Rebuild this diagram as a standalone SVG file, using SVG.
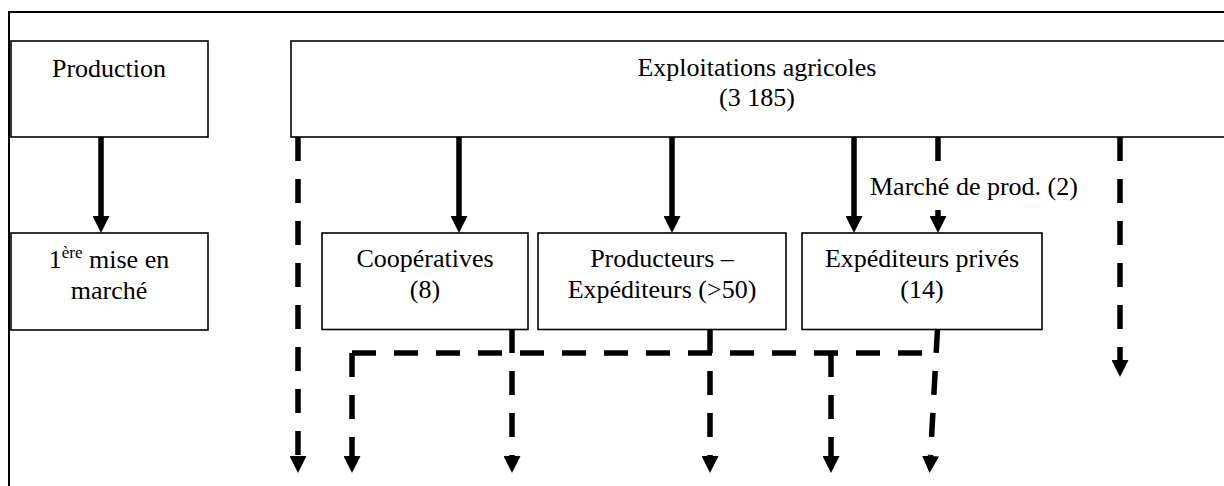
<svg xmlns="http://www.w3.org/2000/svg" width="1224" height="486" viewBox="0 0 1224 486">
<style>
.box{fill:#fff;stroke:#000;stroke-width:1.6}
.frame{fill:none;stroke:#000;stroke-width:2}
.t{font-size:26px;fill:#000}
.c{text-anchor:middle}
.solid{fill:none;stroke:#000;stroke-width:5.5;marker-end:url(#ah)}
.dash{fill:none;stroke:#000;stroke-width:5.5;stroke-dasharray:24 18}
.dasha{fill:none;stroke:#000;stroke-width:5.5;stroke-dasharray:24 18;marker-end:url(#ah)}
</style>
<defs>
<marker id="ah" markerUnits="userSpaceOnUse" viewBox="0 0 17 17" refX="0" refY="8.5" markerWidth="17" markerHeight="17" orient="auto">
<path d="M0,0 L17,8.5 L0,17 z" fill="#000"/>
</marker>
</defs>
<rect width="1224" height="486" fill="#fff"/>
<path class="frame" d="M9,486 V12 H1224"/>

<g font-family="'Liberation Serif', 'DejaVu Serif', serif">
<g id="production">
<rect class="box" x="11" y="41" width="197" height="96"/>
<text class="t c" x="109" y="77">Production</text>
</g>
<g id="exploitations">
<rect class="box" x="291" y="41" width="940" height="96"/>
<text class="t c" x="757" y="76">Exploitations agricoles</text>
<text class="t c" x="757" y="106">(3 185)</text>
</g>
<g id="premiere-mise">
<rect class="box" x="11" y="233" width="197" height="97"/>
<text class="t c" x="109" y="268">1<tspan font-size="17" dy="-10">ère</tspan><tspan dy="10"> mise en</tspan></text>
<text class="t c" x="109" y="299">marché</text>
</g>
<g id="cooperatives">
<rect class="box" x="322" y="233" width="206" height="96.5"/>
<text class="t c" x="425" y="267">Coopératives</text>
<text class="t c" x="425" y="298">(8)</text>
</g>
<g id="producteurs">
<rect class="box" x="538" y="233" width="248" height="96.5"/>
<text class="t c" x="662" y="267">Producteurs –</text>
<text class="t c" x="662" y="298">Expéditeurs (&gt;50)</text>
</g>
<g id="expediteurs">
<rect class="box" x="802" y="233" width="240" height="96.5"/>
<text class="t c" x="922" y="267">Expéditeurs privés</text>
<text class="t c" x="922" y="298">(14)</text>
</g>
<g id="marche-label">
<text class="t" x="870" y="195">Marché de prod. (2)</text>
</g>
</g>

<g id="connectors">
<line class="solid" x1="101" y1="137" x2="101" y2="216"/>
<line class="solid" x1="459" y1="137" x2="459" y2="216"/>
<line class="solid" x1="672" y1="137" x2="672" y2="216"/>
<line class="solid" x1="854" y1="137" x2="854" y2="216"/>
<path class="solid" d="M938,137 V161 M938,210 V216"/>
<line class="dasha" x1="298" y1="137" x2="298" y2="456"/>
<line class="dasha" x1="1120" y1="137" x2="1120" y2="360"/>
<line class="dash" x1="352" y1="353" x2="940" y2="353"/>
<line class="dasha" x1="352" y1="353" x2="352" y2="456"/>
<line class="dasha" x1="512" y1="329" x2="512" y2="456"/>
<line class="dasha" x1="710" y1="329" x2="710" y2="456"/>
<line class="dasha" x1="831" y1="353" x2="831" y2="456"/>
<line class="dasha" x1="937.5" y1="329" x2="930.5" y2="456"/>
</g>
</svg>
